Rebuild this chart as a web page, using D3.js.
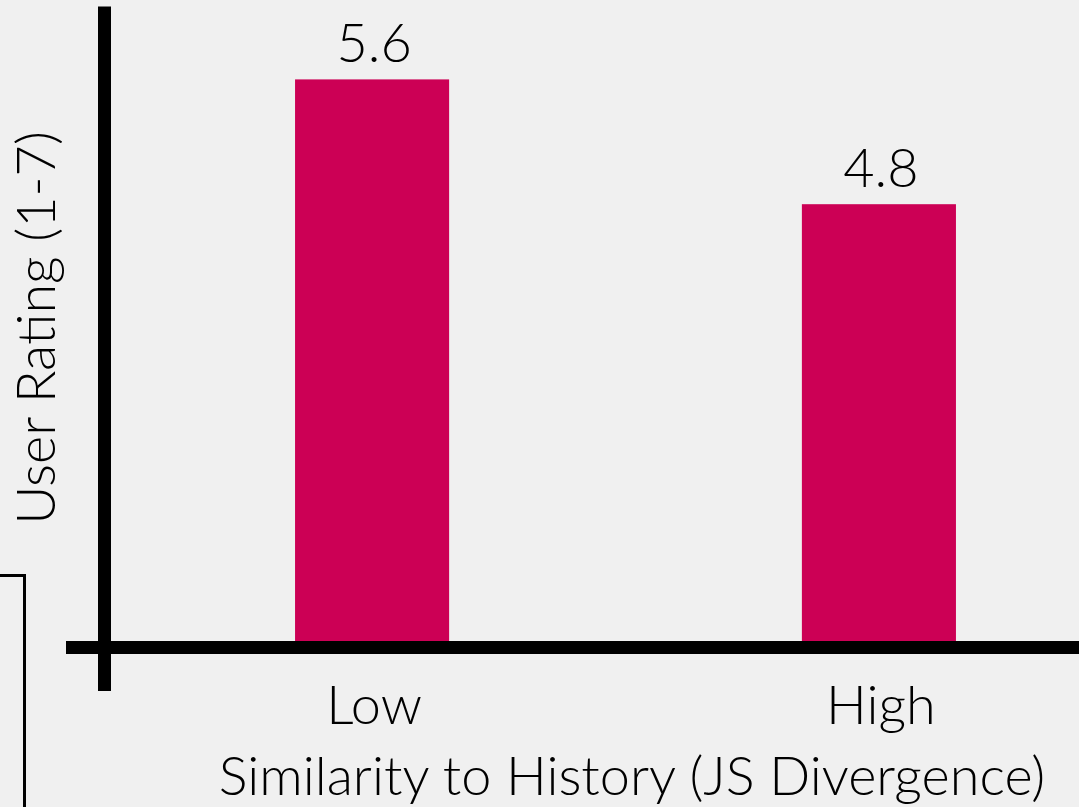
<!DOCTYPE html>
<html>
<head>
<meta charset="utf-8">
<script src="https://cdn.jsdelivr.net/npm/d3@7"></script>
<style>
html,body{margin:0;padding:0;background:#f0f0f0;}
svg{display:block;}
text{font-family:"Lato Light",Lato,"Open Sans",sans-serif;font-weight:300;fill:#000;}
</style>
</head>
<body>
<svg id="chart" width="1079" height="807"></svg>
<script>
const categories = ["Low", "High"];
const ratings = [5.6, 4.8];
const valueLabels = ["5.6", "4.8"];
const xTitle = "Similarity to History (JS Divergence)";
const yTitle = "User Rating (1-7)";

const W = 1079, H = 807;
const FONT = "'Lato Light', Lato, 'Open Sans', sans-serif";
const svg = d3.select("#chart");
svg.append("rect").attr("width", W).attr("height", H).attr("fill", "#f0f0f0");

const x = d3.scaleBand().domain(categories).range([143, 1108]).paddingInner(0.696).paddingOuter(0.3);
const y = d3.scaleLinear().domain([2, 6]).range([641, 17]);

// bars
svg.selectAll("rect.bar").data(categories).enter().append("rect")
  .attr("class", "bar")
  .attr("x", d => x(d))
  .attr("width", x.bandwidth())
  .attr("y", (d, i) => y(ratings[i]))
  .attr("height", (d, i) => y(2) - y(ratings[i]))
  .attr("fill", "#cc0055");

// value labels
svg.selectAll("text.val").data(categories).enter().append("text")
  .attr("class", "val")
  .attr("x", d => x(d) + x.bandwidth() / 2 + 2)
  .attr("y", (d, i) => y(ratings[i]) - 17)
  .attr("text-anchor", "middle")
  .attr("font-size", 54)
  .text((d, i) => valueLabels[i]);

// axes lines
svg.append("line").attr("x1", 104.5).attr("x2", 104.5).attr("y1", 6.5).attr("y2", 691)
  .attr("stroke", "#000").attr("stroke-width", 13);
svg.append("line").attr("x1", 66).attr("x2", W).attr("y1", 647.5).attr("y2", 647.5)
  .attr("stroke", "#000").attr("stroke-width", 13);

// category labels
const xAxis = d3.axisBottom(x).tickSize(0).tickPadding(0);
const gx = svg.append("g").attr("transform", "translate(0,724)").call(xAxis);
gx.select(".domain").remove();
gx.selectAll("text")
  .attr("dy", 0).attr("y", 0)
  .attr("font-size", 54)
  .style("font-family", FONT)
  .style("font-weight", 300)
  .attr("dx", 2);

// axis titles
svg.append("text")
  .attr("x", 632).attr("y", 795)
  .attr("text-anchor", "middle")
  .attr("font-size", 54)
  .text(xTitle);
svg.append("text")
  .attr("transform", "translate(55,328) rotate(-90)")
  .attr("text-anchor", "middle")
  .attr("font-size", 54)
  .text(yTitle);

// stray bracket at lower left
svg.append("path")
  .attr("d", "M0,575.5 H24.5 V807")
  .attr("fill", "none").attr("stroke", "#000").attr("stroke-width", 3);
</script>
</body>
</html>
